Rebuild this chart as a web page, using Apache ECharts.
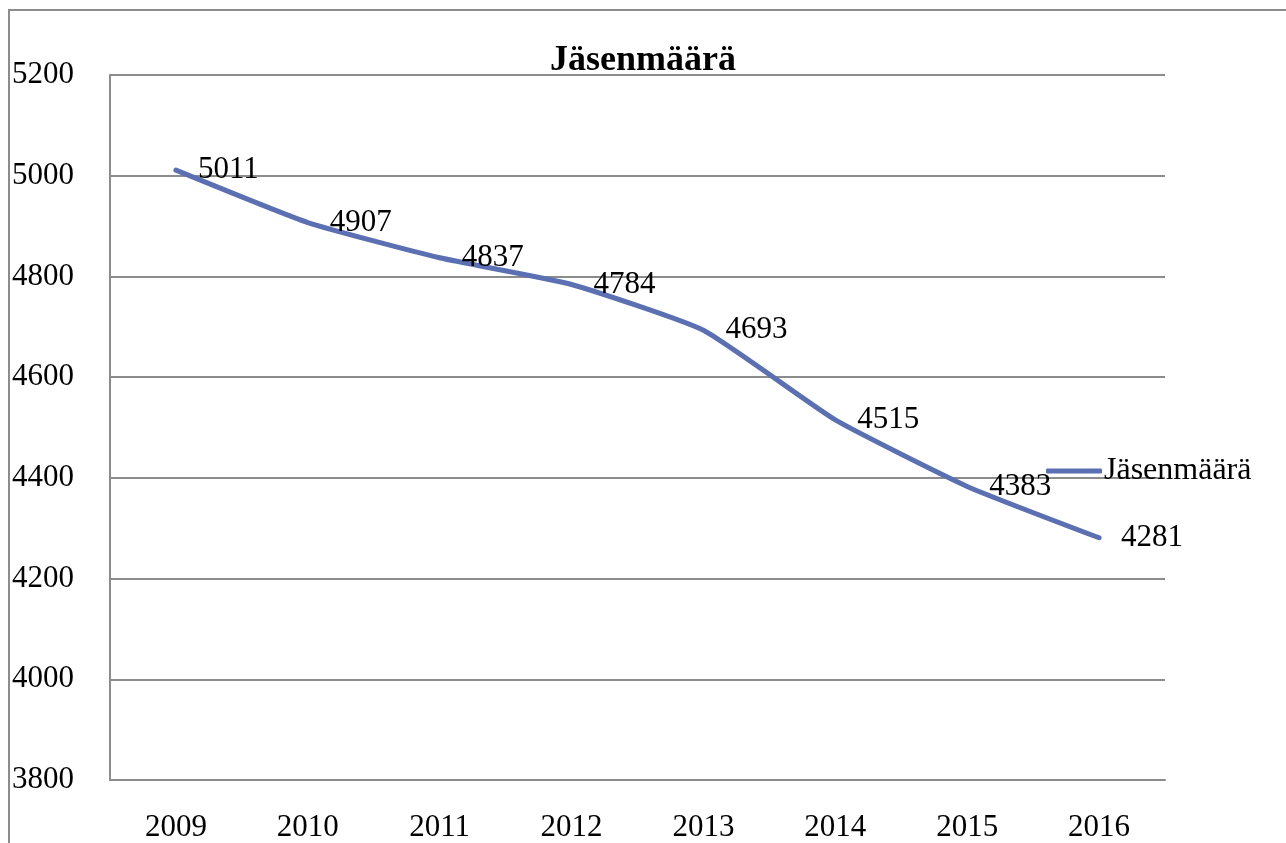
<!DOCTYPE html>
<html>
<head>
<meta charset="utf-8">
<script src="https://cdn.jsdelivr.net/npm/echarts@6/dist/echarts.min.js"></script>
<style>
html, body { margin: 0; padding: 0; background: #fff; }
#main { width: 1286px; height: 843px; }
</style>
</head>
<body>
<div id="main"></div>
<script>
var vuodet = ['2009', '2010', '2011', '2012', '2013', '2014', '2015', '2016'];
var jasenmaara = [5011, 4907, 4837, 4784, 4693, 4515, 4383, 4281];
var sarjanNimi = 'Jäsenmäärä';

var fontti = '"Liberation Serif", "DejaVu Serif", serif';
var sininen = '#5B6FB3';
var myChart = echarts.init(document.getElementById('main'));

var option = {
    backgroundColor: '#fff',
    animation: false,
    title: {
        text: 'Jäsenmäärä',
        left: 'center',
        top: 38,
        textStyle: { fontFamily: fontti, fontSize: 36, fontWeight: 'bold', color: '#000' }
    },
    legend: {
        data: [{ name: sarjanNimi, icon: 'roundRect', itemStyle: { color: sininen, opacity: 1 } }],
        left: 1041,
        top: 450,
        itemWidth: 56,
        itemHeight: 5,
        itemGap: 4,
        textStyle: { fontFamily: fontti, fontSize: 32, color: '#000', padding: [0, 0, 0, -3] }
    },
    grid: { left: 110, right: 121, top: 75, bottom: 63, containLabel: false },
    graphic: [{
        type: 'rect',
        shape: { x: 9, y: 10, width: 1300, height: 900 },
        style: { fill: 'none', stroke: '#8c8c8c', lineWidth: 2 },
        silent: true
    }],
    xAxis: {
        type: 'category',
        data: vuodet,
        boundaryGap: true,
        axisLine: { lineStyle: { color: '#8c8c8c', width: 2 } },
        axisTick: { show: false },
        axisLabel: { margin: 32, fontFamily: fontti, fontSize: 31, color: '#000' }
    },
    yAxis: {
        type: 'value',
        min: 3800,
        max: 5200,
        interval: 200,
        axisLine: { show: true, lineStyle: { color: '#8c8c8c', width: 2 } },
        axisTick: { show: false },
        splitLine: { lineStyle: { color: '#8c8c8c', width: 2 } },
        axisLabel: {
            align: 'left', margin: 98, fontFamily: fontti, fontSize: 31, color: '#000',
            formatter: function (v) { return String(v); }
        }
    },
    series: [{
        name: sarjanNimi,
        type: 'line',
        data: jasenmaara,
        smooth: 0.15,
        symbol: 'circle',
        symbolSize: 4,
        showSymbol: true,
        lineStyle: { color: sininen, width: 5, cap: 'round' },
        itemStyle: { color: sininen },
        label: {
            show: true,
            position: 'right',
            distance: 20,
            padding: [8, 0, 0, 0],
            fontFamily: fontti,
            fontSize: 31,
            color: '#000',
            formatter: function (p) { return String(p.value); }
        },
        labelLayout: { hideOverlap: false }
    }]
};

myChart.setOption(option);
</script>
</body>
</html>
